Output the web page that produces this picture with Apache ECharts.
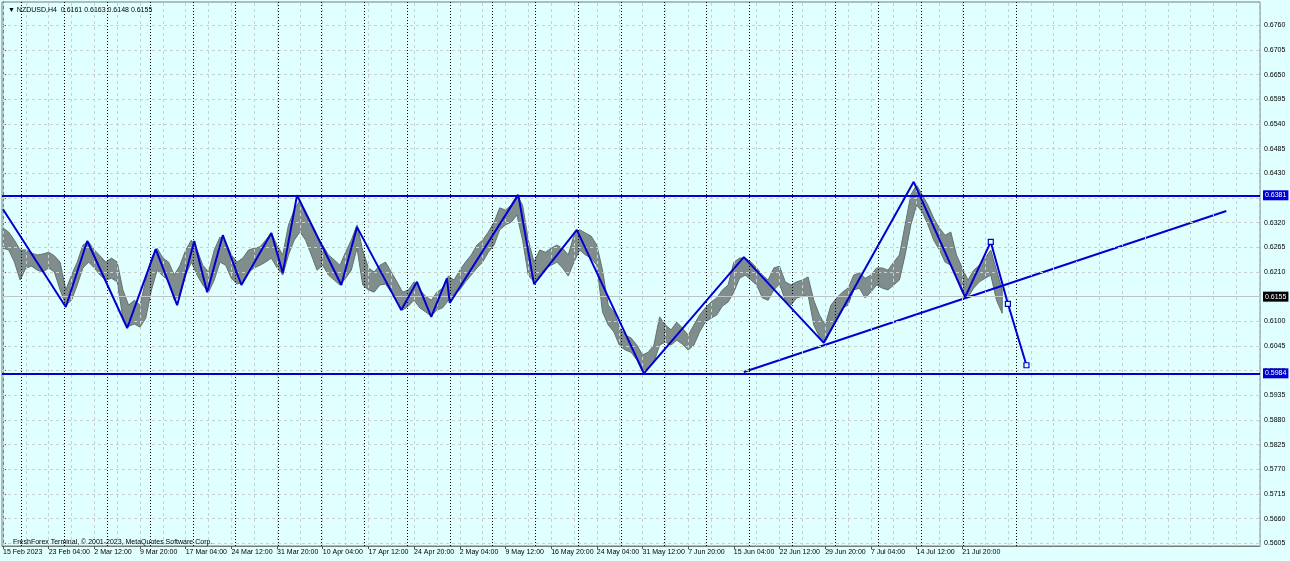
<!DOCTYPE html>
<html>
<head>
<meta charset="utf-8">
<title>NZDUSD,H4</title>
<script src="https://cdn.jsdelivr.net/npm/echarts@6/dist/echarts.min.js"></script>
<style>
  html, body { margin: 0; padding: 0; background: #e0ffff; }
  #chart { width: 1290px; height: 561px; }
</style>
</head>
<body>
<div id="chart"></div>
<script>
// x axis = H4 bar number, bar 0 = 15 Feb 2023 20:00
const barsPerSample = 4;

// price envelope, one sample every 4 bars
const priceHigh = [
  0.6308, 0.6299, 0.6281, 0.6259, 0.6259, 0.6252, 0.6248, 0.6250, 0.6254, 0.6246,
  0.6232, 0.6170, 0.6203, 0.6232, 0.6270, 0.6277, 0.6259, 0.6246, 0.6232, 0.6241,
  0.6232, 0.6170, 0.6136, 0.6147, 0.6136, 0.6192, 0.6241, 0.6263, 0.6241, 0.6232,
  0.6203, 0.6225, 0.6259, 0.6281, 0.6259, 0.6225, 0.6210, 0.6259, 0.6288, 0.6277,
  0.6248, 0.6232, 0.6241, 0.6259, 0.6263, 0.6266, 0.6281, 0.6297, 0.6270, 0.6248,
  0.6315, 0.6348, 0.6370, 0.6337, 0.6315, 0.6286, 0.6270, 0.6248, 0.6237, 0.6225,
  0.6254, 0.6281, 0.6315, 0.6259, 0.6219, 0.6210, 0.6225, 0.6232, 0.6210, 0.6188,
  0.6165, 0.6170, 0.6188, 0.6170, 0.6156, 0.6147, 0.6165, 0.6174, 0.6201, 0.6192,
  0.6214, 0.6232, 0.6248, 0.6270, 0.6281, 0.6299, 0.6321, 0.6353, 0.6348, 0.6359,
  0.6382, 0.6359, 0.6281, 0.6232, 0.6259, 0.6254, 0.6263, 0.6270, 0.6263, 0.6248,
  0.6292, 0.6304, 0.6297, 0.6290, 0.6270, 0.6214, 0.6136, 0.6121, 0.6085, 0.6069,
  0.6063, 0.6047, 0.6025, 0.6031, 0.6047, 0.6110, 0.6092, 0.6081, 0.6098, 0.6085,
  0.6069, 0.6092, 0.6114, 0.6130, 0.6143, 0.6152, 0.6170, 0.6181, 0.6232, 0.6241,
  0.6241, 0.6232, 0.6219, 0.6203, 0.6192, 0.6219, 0.6223, 0.6188, 0.6181, 0.6188,
  0.6192, 0.6199, 0.6147, 0.6114, 0.6092, 0.6136, 0.6152, 0.6165, 0.6174, 0.6203,
  0.6208, 0.6196, 0.6203, 0.6219, 0.6219, 0.6214, 0.6232, 0.6248, 0.6315, 0.6382,
  0.6404, 0.6382, 0.6359, 0.6330, 0.6308, 0.6292, 0.6299, 0.6248, 0.6219, 0.6192,
  0.6214, 0.6225, 0.6241, 0.6259, 0.6214, 0.6170
];
const priceLow = [
  0.6263, 0.6259, 0.6232, 0.6192, 0.6219, 0.6223, 0.6214, 0.6210, 0.6219, 0.6210,
  0.6170, 0.6136, 0.6147, 0.6181, 0.6219, 0.6232, 0.6219, 0.6203, 0.6192, 0.6196,
  0.6188, 0.6107, 0.6089, 0.6094, 0.6087, 0.6107, 0.6170, 0.6214, 0.6201, 0.6192,
  0.6147, 0.6159, 0.6203, 0.6232, 0.6203, 0.6181, 0.6165, 0.6192, 0.6232, 0.6225,
  0.6196, 0.6183, 0.6188, 0.6210, 0.6219, 0.6225, 0.6232, 0.6241, 0.6219, 0.6203,
  0.6248, 0.6281, 0.6299, 0.6281, 0.6248, 0.6214, 0.6225, 0.6203, 0.6192, 0.6181,
  0.6196, 0.6214, 0.6263, 0.6181, 0.6170, 0.6165, 0.6181, 0.6183, 0.6165, 0.6143,
  0.6125, 0.6134, 0.6147, 0.6130, 0.6121, 0.6112, 0.6125, 0.6130, 0.6147, 0.6159,
  0.6170, 0.6188, 0.6203, 0.6219, 0.6232, 0.6254, 0.6270, 0.6304, 0.6315, 0.6321,
  0.6337, 0.6281, 0.6203, 0.6188, 0.6203, 0.6219, 0.6225, 0.6232, 0.6219, 0.6201,
  0.6232, 0.6259, 0.6248, 0.6241, 0.6225, 0.6121, 0.6092, 0.6076, 0.6045, 0.6036,
  0.6031, 0.6014, 0.5987, 0.5996, 0.6009, 0.6047, 0.6054, 0.6047, 0.6058, 0.6049,
  0.6036, 0.6047, 0.6076, 0.6098, 0.6107, 0.6114, 0.6134, 0.6143, 0.6165, 0.6196,
  0.6203, 0.6192, 0.6181, 0.6152, 0.6147, 0.6170, 0.6183, 0.6147, 0.6136, 0.6152,
  0.6156, 0.6159, 0.6092, 0.6065, 0.6054, 0.6081, 0.6107, 0.6130, 0.6136, 0.6170,
  0.6174, 0.6152, 0.6165, 0.6181, 0.6174, 0.6170, 0.6181, 0.6192, 0.6248, 0.6315,
  0.6359, 0.6344, 0.6315, 0.6281, 0.6259, 0.6232, 0.6225, 0.6196, 0.6165, 0.6154,
  0.6174, 0.6188, 0.6196, 0.6203, 0.6147, 0.6118
];

// ZigZag pivots
const zigzagBars = [0, 44, 59, 87, 107, 122, 134, 143, 154, 167, 188, 196, 206, 237, 248, 279,
  290, 300, 311, 313, 361, 372, 402, 449, 519, 575, 638, 674, 692, 704, 717];
const zigzagPrices = [0.6350, 0.6132, 0.6279, 0.6085, 0.6261, 0.6136, 0.6279, 0.6165, 0.6292,
  0.6181, 0.6297, 0.6208, 0.6381, 0.6181, 0.6310, 0.6125, 0.6188, 0.6110, 0.6196, 0.6141,
  0.6382, 0.6183, 0.6304, 0.5984, 0.6243, 0.6052, 0.6411, 0.6154, 0.6277, 0.6139, 0.6002];
const markedPivots = 3; // last pivots drawn with squares

const trendBars = [519, 857];
const trendPrices = [0.5987, 0.6346];

const resistance = 0.6381;
const support = 0.5984;
const bid = 0.6155;

const dateBars = [0, 32, 64, 96, 128, 160, 192, 224, 256, 288, 320, 352, 384, 416, 448, 480,
  512, 544, 576, 608, 640, 672];
const dateLabels = ['15 Feb 2023', '23 Feb 04:00', '2 Mar 12:00', '9 Mar 20:00', '17 Mar 04:00',
  '24 Mar 12:00', '31 Mar 20:00', '10 Apr 04:00', '17 Apr 12:00', '24 Apr 20:00', '2 May 04:00',
  '9 May 12:00', '16 May 20:00', '24 May 04:00', '31 May 12:00', '7 Jun 20:00', '15 Jun 04:00',
  '22 Jun 12:00', '29 Jun 20:00', '7 Jul 04:00', '14 Jul 12:00', '21 Jul 20:00'];
const weekSeparators = [13, 43, 73, 103, 133, 163, 193, 223, 253, 283, 313, 343, 373, 403, 433,
  463, 493, 523, 553, 583, 613, 643, 673, 710];
const priceTicks = [0.5605, 0.5660, 0.5715, 0.5770, 0.5825, 0.5880, 0.5935, 0.5990, 0.6045,
  0.6100, 0.6155, 0.6210, 0.6265, 0.6320, 0.6375, 0.6430, 0.6485, 0.6540, 0.6595, 0.6650,
  0.6705, 0.6760];

const blue = '#0000d0';
const font = 'Liberation Sans, Arial, sans-serif';

const chart = echarts.init(document.getElementById('chart'));

// grid lines
const gridLines = [];
for (let b = 0; b <= 880; b += 16) {
  gridLines.push({ xAxis: b, lineStyle: { color: '#c9d0d0', type: [3, 3], width: 1 } });
}
priceTicks.forEach(v => {
  gridLines.push({ yAxis: v, lineStyle: { color: '#c9d0d0', type: [3, 3], width: 1 } });
});
weekSeparators.forEach(b => {
  gridLines.push({ xAxis: b, lineStyle: { color: '#000', type: [1, 2], width: 1 } });
});

const levelLabel = (bg) => ({
  show: true, position: 'end', distance: 3, color: '#fff', backgroundColor: bg,
  fontSize: 7, fontFamily: font, padding: [2, 2, 1, 2],
  formatter: p => p.value.toFixed(4)
});

const option = {
  backgroundColor: '#e0ffff',
  animation: false,
  title: [
    {
      text: '▼ NZDUSD,H4  0.6161 0.6163 0.6148 0.6155',
      left: 3, top: 2,
      textStyle: { fontSize: 7, fontWeight: 'normal', color: '#000', fontFamily: font }
    },
    {
      text: 'FreshForex Terminal, © 2001-2023, MetaQuotes Software Corp.',
      left: 8, top: 534,
      textStyle: { fontSize: 7, fontWeight: 'normal', color: '#000', fontFamily: font }
    }
  ],
  grid: {
    left: 1, right: 30, top: 2, bottom: 15,
    show: true, borderColor: '#7a7a7a', borderWidth: 1, backgroundColor: '#e0ffff'
  },
  xAxis: {
    type: 'value', min: -0.7, max: 880.6,
    axisLine: { show: true, lineStyle: { color: '#7a7a7a' } },
    axisTick: { show: true, customValues: dateBars, length: 3, lineStyle: { color: '#555' } },
    axisLabel: {
      customValues: dateBars, align: 'left', margin: 3, fontSize: 7, color: '#000',
      fontFamily: font,
      formatter: v => dateLabels[dateBars.indexOf(v)]
    },
    splitLine: { show: false }
  },
  yAxis: {
    type: 'value', position: 'right', min: 0.5599, max: 0.6812,
    axisLine: { show: true, lineStyle: { color: '#7a7a7a', width: 1 } },
    axisTick: { show: true, customValues: priceTicks, length: 3, lineStyle: { color: '#555' } },
    axisLabel: {
      customValues: priceTicks, margin: 4, fontSize: 7, color: '#000', fontFamily: font,
      formatter: v => v.toFixed(4)
    },
    splitLine: { show: false }
  },
  series: [
    {
      name: 'grid', type: 'line', data: [], z: 1, silent: true,
      markLine: {
        symbol: ['none', 'none'], silent: true, precision: 5,
        label: { show: false }, data: gridLines
      }
    },
    {
      name: 'NZDUSD', type: 'custom', z: 2, silent: true,
      data: priceHigh.map((h, k) => [k * barsPerSample, priceLow[k], h]),
      encode: { x: 0, y: [1, 2] },
      renderItem: (params, api) => {
        if (params.dataIndex !== 0) return null;
        const top = [], bottom = [];
        for (let k = 0; k < priceHigh.length; k++) {
          top.push(api.coord([k * barsPerSample, priceHigh[k]]));
          bottom.unshift(api.coord([k * barsPerSample, priceLow[k]]));
        }
        return {
          type: 'polygon',
          shape: { points: top.concat(bottom) },
          style: { fill: '#7f8d8c', stroke: '#65716f', lineWidth: 1 }
        };
      }
    },
    {
      name: 'levels', type: 'line', data: [], z: 3, silent: true,
      markLine: {
        symbol: ['none', 'none'], silent: true, precision: 5,
        data: [
          { yAxis: bid, lineStyle: { color: '#c0c4c4', type: 'solid', width: 1 }, label: levelLabel('#000') },
          { yAxis: resistance, lineStyle: { color: blue, type: 'solid', width: 2 }, label: levelLabel(blue) },
          { yAxis: support, lineStyle: { color: blue, type: 'solid', width: 2 }, label: levelLabel(blue) }
        ]
      }
    },
    {
      name: 'trend', type: 'line', z: 4, silent: true, symbol: 'none',
      data: trendBars.map((b, k) => [b, trendPrices[k]]),
      lineStyle: { color: blue, width: 2 }
    },
    {
      name: 'ZigZag', type: 'line', z: 5, silent: true, symbol: 'none',
      data: zigzagBars.map((b, k) => {
        const item = { value: [b, zigzagPrices[k]] };
        if (k >= zigzagBars.length - markedPivots) {
          item.symbol = 'rect';
          item.symbolSize = 5;
          item.itemStyle = { color: '#e0ffff', borderColor: blue, borderWidth: 1.2 };
        }
        return item;
      }),
      lineStyle: { color: blue, width: 2 }
    }
  ]
};

chart.setOption(option);
</script>
</body>
</html>
